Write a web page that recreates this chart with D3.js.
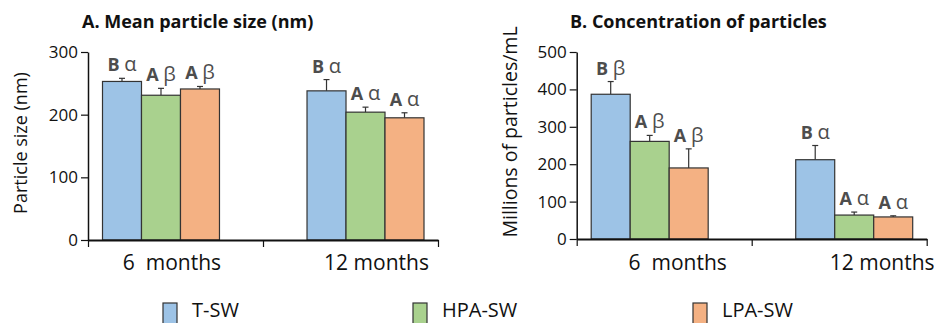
<!DOCTYPE html>
<html>
<head>
<meta charset="utf-8">
<script src="https://cdn.jsdelivr.net/npm/d3@7"></script>
<style>
  body { margin: 0; background: #fff; }
  svg text { font-family: "Open Sans", sans-serif; }
</style>
</head>
<body>
<svg id="chart" width="934" height="323"></svg>
<script>
// data
var months = ["6  months", "12 months"];
var groups = ["T-SW", "HPA-SW", "LPA-SW"];
var colors = ["#9dc3e6", "#a9d18e", "#f4b183"];

var sizeMeans = [[253, 231, 241], [238, 204, 195]];
var sizeErrors = [[5, 11, 4], [18, 8, 8]];
var sizeLetters = [["B α", "A β", "A β"], ["B α", "A α", "A α"]];
var sizeTicks = [0, 100, 200, 300];

var concMeans = [[387, 261, 190], [212, 64, 59]];
var concErrors = [[34, 16, 51], [38, 8, 3]];
var concLetters = [["B β", "A β", "A β"], ["B α", "A α", "A α"]];
var concTicks = [0, 100, 200, 300, 400, 500];

var svg = d3.select("#chart");

function panel(opt) {
  var g = svg.append("g").attr("transform", "translate(" + opt.left + ",0)");
  var y = d3.scaleLinear().domain([0, opt.max]).range([opt.bottom, 52]);
  var x0 = d3.scaleBand().domain(months).range([14.5, 336]).paddingInner(0.428).paddingOuter(0);
  var x1 = d3.scaleBand().domain(groups).range([0, x0.bandwidth()]);
  var xa = d3.scaleLinear().domain([0, 2]).range([0, 350]);

  // bars
  months.forEach(function (m, i) {
    var gg = g.append("g").attr("transform", "translate(" + x0(m) + ",0)");
    groups.forEach(function (s, j) {
      var v = opt.means[i][j], e = opt.errors[i][j];
      var cx = x1(s) + x1.bandwidth() / 2;
      gg.append("line")
        .attr("x1", cx).attr("x2", cx)
        .attr("y1", y(v)).attr("y2", y(v + e))
        .attr("stroke", "#333").attr("stroke-width", 1.2);
      gg.append("line")
        .attr("x1", cx - 3).attr("x2", cx + 3)
        .attr("y1", y(v + e)).attr("y2", y(v + e))
        .attr("stroke", "#333").attr("stroke-width", 1.2);
      gg.append("rect")
        .attr("x", x1(s)).attr("y", y(v))
        .attr("width", x1.bandwidth()).attr("height", y(0) - y(v))
        .attr("fill", colors[j]).attr("stroke", "#333").attr("stroke-width", 1.2);
      var parts = opt.letters[i][j].split(" ");
      var t = gg.append("text")
        .attr("x", cx).attr("y", y(v + e) - 7)
        .attr("text-anchor", "middle")
        .attr("fill", "#4d4d4d");
      t.append("tspan").attr("font-weight", "bold").attr("font-size", 18).text(parts[0] + " ");
      t.append("tspan").attr("font-size", 20).text(parts[1]);
    });
    g.append("text")
      .attr("x", x0(m) + x0.bandwidth() / 2 + opt.labelDx)
      .attr("y", 270)
      .attr("text-anchor", "middle")
      .attr("font-size", 21)
      .attr("fill", "#111")
      .style("white-space", "pre")
      .text(m);
  });

  // y axis
  var ya = g.append("g").call(d3.axisLeft(y).tickValues(opt.ticks).tickSize(7).tickSizeOuter(0).tickPadding(3));
  ya.select(".domain").attr("stroke", "#111").attr("stroke-width", 1.5);
  ya.selectAll(".tick line").attr("stroke", "#111").attr("stroke-width", 1.2);
  ya.selectAll(".tick text").attr("font-size", 17).attr("fill", "#111").style("font-family", "Open Sans, sans-serif");

  // x axis
  var xg = g.append("g").attr("transform", "translate(0," + opt.bottom + ")")
    .call(d3.axisBottom(xa).tickValues([0, 1, 2]).tickFormat("").tickSize(7).tickSizeOuter(0));
  xg.select(".domain").attr("stroke", "#111").attr("stroke-width", 2);
  xg.selectAll(".tick line").attr("stroke", "#111").attr("stroke-width", 1.2);

  // titles
  svg.append("text")
    .attr("x", opt.titleX).attr("y", 28)
    .attr("font-size", 18).attr("font-weight", "bold").attr("fill", "#111")
    .text(opt.title);
  svg.append("text")
    .attr("transform", "translate(" + opt.ytitleX + "," + opt.ytitleY + ") rotate(-90)")
    .attr("text-anchor", "middle")
    .attr("font-size", opt.ytitleSize).attr("fill", "#111")
    .text(opt.ytitle);
}

panel({
  left: 88, bottom: 240, max: 300,
  means: sizeMeans, errors: sizeErrors, letters: sizeLetters, ticks: sizeTicks,
  labelDx: 11, title: "A. Mean particle size (nm)", titleX: 82,
  ytitle: "Particle size (nm)", ytitleX: 27, ytitleY: 143, ytitleSize: 18
});

panel({
  left: 576.7, bottom: 239, max: 500,
  means: concMeans, errors: concErrors, letters: concLetters, ticks: concTicks,
  labelDx: 28, title: "B. Concentration of particles", titleX: 570,
  ytitle: "Millions of particles/mL", ytitleX: 517, ytitleY: 132, ytitleSize: 19.5
});

// legend
var legendX = [163, 413, 693];
var leg = svg.append("g");
groups.forEach(function (s, j) {
  leg.append("rect")
    .attr("x", legendX[j]).attr("y", 303)
    .attr("width", 14).attr("height", 26)
    .attr("fill", colors[j]).attr("stroke", "#333").attr("stroke-width", 1.2);
  leg.append("text")
    .attr("x", legendX[j] + 29).attr("y", 317)
    .attr("font-size", 20).attr("fill", "#111")
    .text(s);
});
</script>
</body>
</html>
